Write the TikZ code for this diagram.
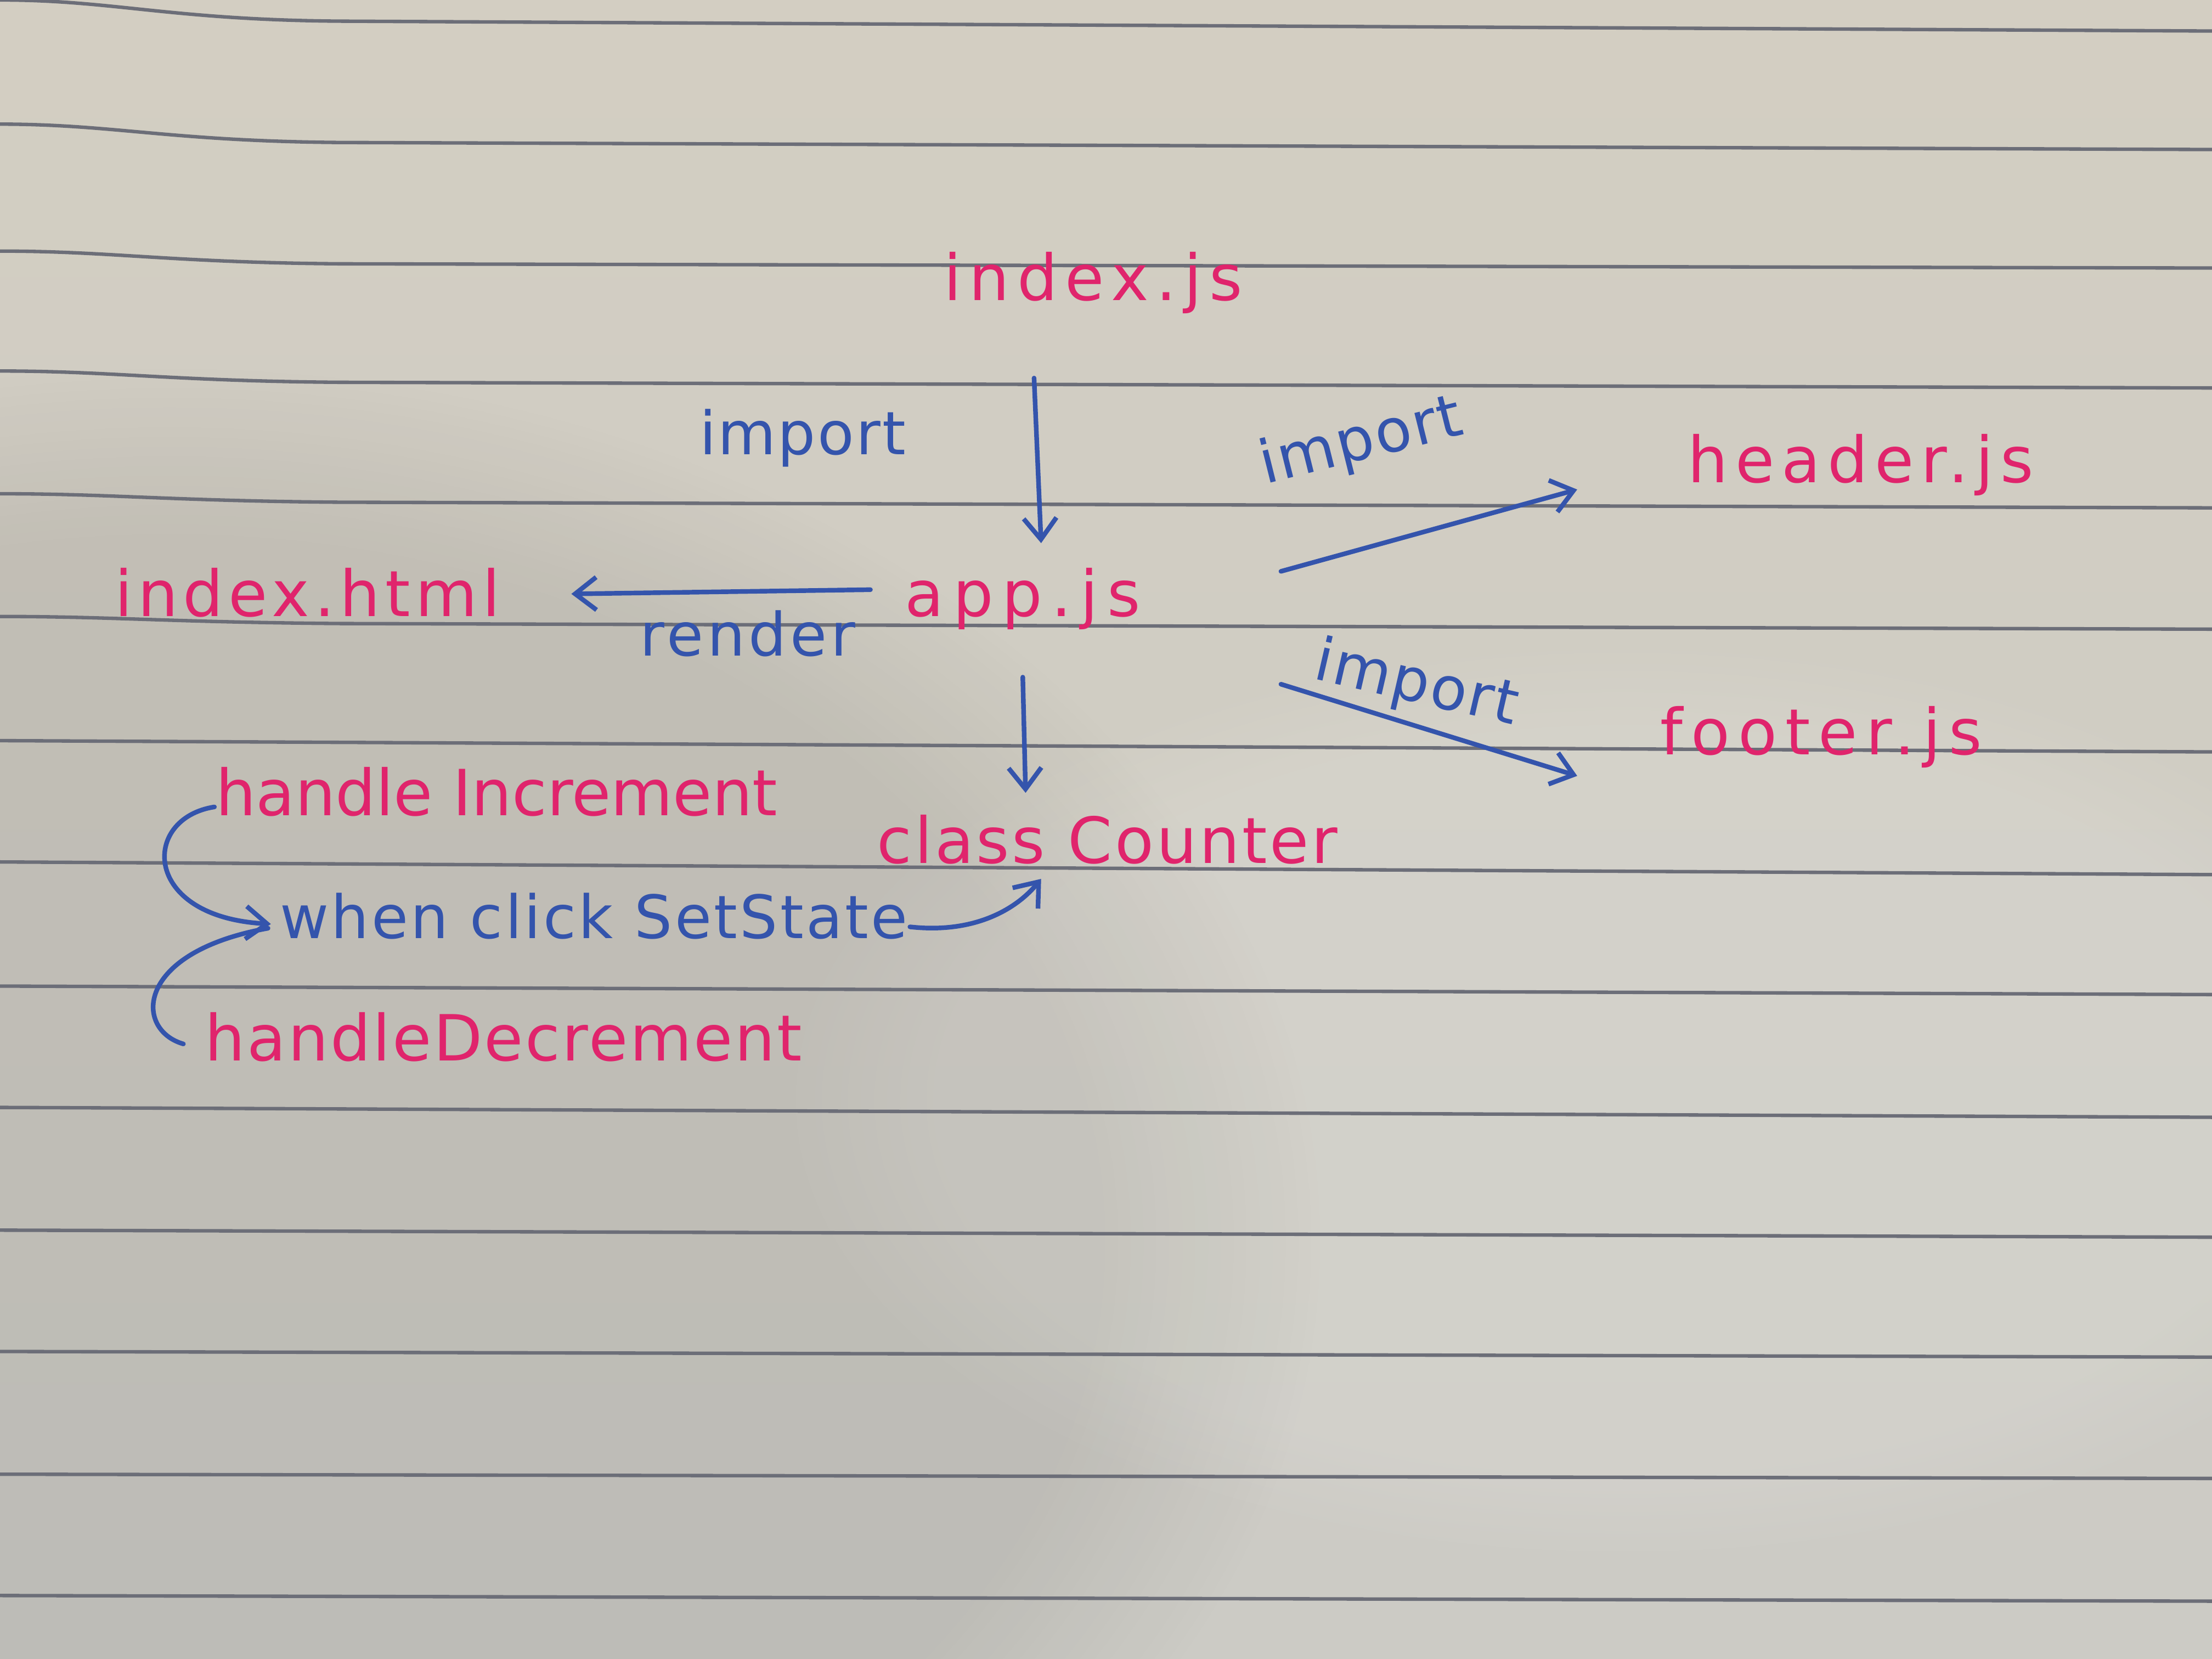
\documentclass[tikz,border=0pt]{standalone}
\usepackage{fontspec}
\setmainfont{DejaVu Sans}
\newfontfamily\hand{DejaVu Sans}
\usetikzlibrary{arrows.meta,calc,fadings}
\definecolor{papertop}{RGB}{211,206,194}
\definecolor{paperbot}{RGB}{204,203,197}
\definecolor{rulecol}{RGB}{108,110,120}
\definecolor{pinkink}{RGB}{224,36,108}
\definecolor{blueink}{RGB}{52,84,172}
\begin{document}
\begin{tikzpicture}[x=0.025714cm,y=-0.025714cm,
  pinktxt/.style={text=pinkink, font={\hand\fontsize{33}{40}\selectfont\addfontfeature{LetterSpace=#1}}, inner sep=0pt, anchor=base},
  pinktxt/.default=12,
  bluetxt/.style={text=blueink, font={\hand\fontsize{31}{38}\selectfont\addfontfeature{LetterSpace=#1}}, inner sep=0pt, anchor=base},
  bluetxt/.default=4,
  ink/.style={draw=blueink, line width=2.4pt, line cap=round, line join=round},
  arr/.style={ink, -{Straight Barb[length=11pt,width=17pt,line width=2.4pt]}},
  ruleline/.style={draw=rulecol, line width=1.8pt}]
% paper
\useasboundingbox (0,0) rectangle (1568,1176);
\shade[top color=papertop, bottom color=paperbot] (0,0) rectangle (1568,1176);
\fill[black, opacity=0.07, path fading=circle with fuzzy edge 20 percent] (120,880) ellipse [x radius=820, y radius=620];
\fill[white, opacity=0.10, path fading=circle with fuzzy edge 20 percent] (1150,780) ellipse [x radius=600, y radius=330];
% ruled lines
\foreach \a/\b/\c in {0/14/22, 88/12/18, 178/8/12, 263/7/12, 350/5/10, 437/4/9}
  \draw[ruleline] (0,\a) .. controls (80,\a) and (120,\a+\b) .. (240,\a+\b+1) -- (1568,\a+\c);
\foreach \a/\c in {525/8, 611/9, 699/6, 785/7, 872/5, 958/4, 1045/3, 1131/4}
  \draw[ruleline] (0,\a) -- (1568,\a+\c);
% nodes
\node[pinktxt=12] (idx)  at (775,213) {index.js};
\node[pinktxt=14] (app)  at (725,437) {app.js};
\node[pinktxt=8]  (html) at (218,437) {index.html};
\node[pinktxt=11] (hdr)  at (1319,342) {header.js};
\node[pinktxt=13] (ftr)  at (1291,535) {footer.js};
\node[pinktxt=4]  (cls)  at (785,612) {class Counter};
\node[pinktxt=0]  (inc)  at (352,578) {handle Increment};
\node[pinktxt=3]  (dec)  at (357,752) {handleDecrement};
\node[bluetxt=4]  (clk)  at (421,665) {when click SetState};
% labels
\node[bluetxt=3] (limp1) at (569,322) {import};
\node[bluetxt=6] (lrend) at (530,465) {render};
\node[bluetxt=3, anchor=center, rotate=14] (limp2) at (965,314) {import};
\node[bluetxt=3, anchor=center, rotate=-13] (limp3) at (1004,486) {import};
% connectors
\draw[arr] ($(idx.base)+(-42,55)$) -- ($(app.base)+(13,-52)$);
\draw[arr] ($(app.base)+(-108,-19)$) -- ($(html.base)+(187,-16)$);
\draw[arr] ($(app.base)+(183,-32)$) -- ($(hdr.base)+(-201,5)$);
\draw[arr] ($(app.base)+(183,48)$) -- ($(ftr.base)+(-173,15)$);
\draw[arr] ($(app.base)+(0,43)$) -- ($(cls.base)+(-58,-50)$);
\draw[arr] ($(inc.base)+(-200,-6)$) .. controls (100,580) and (100,650) .. ($(clk.base)+(-229,-10)$);
\draw[ink] ($(dec.base)+(-227,-12)$) .. controls (95,730) and (95,675) .. ($(clk.base)+(-231,-7)$);
\draw[arr] ($(clk.base)+(224,-8)$) .. controls (690,662) and (720,645) .. ($(cls.base)+(-47,11)$);
\end{tikzpicture}
\end{document}
